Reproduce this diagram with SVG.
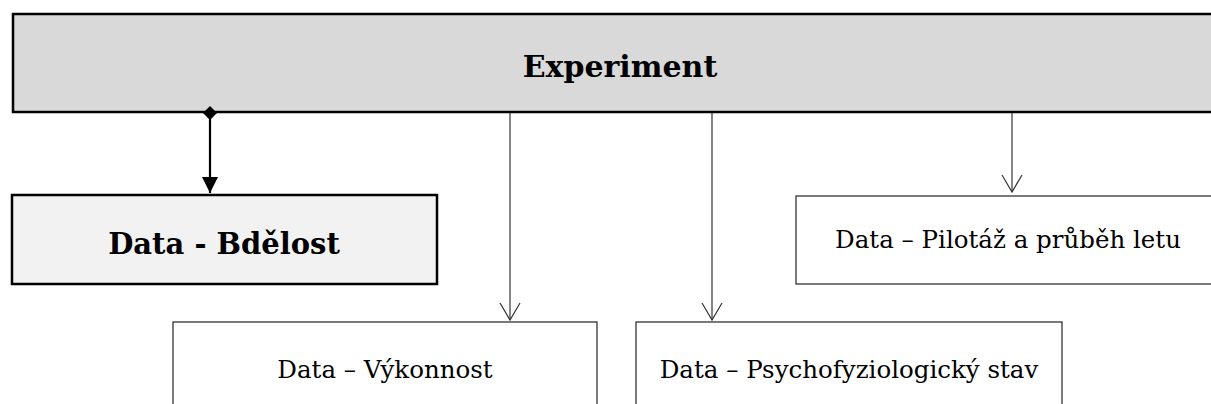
<svg xmlns="http://www.w3.org/2000/svg" width="1211" height="404" viewBox="0 0 1211 404">
<style>
.t{font-family:"DejaVu Serif","Liberation Serif",serif;fill:#000;text-anchor:middle}
.b{font-weight:bold}
.thin{fill:#fff;stroke:#222;stroke-width:1.2}
.con{stroke:#333;stroke-width:1.2;fill:none}
</style>
<defs>
<marker id="open" markerUnits="userSpaceOnUse" markerWidth="20" markerHeight="22" refX="18" refY="11" orient="auto" viewBox="0 0 20 22">
<path d="M1,1 L18,11 L1,21" fill="none" stroke="#333" stroke-width="1.2"/>
</marker>
<marker id="fill" markerUnits="userSpaceOnUse" markerWidth="16" markerHeight="16" refX="16" refY="8" orient="auto" viewBox="0 0 16 16">
<path d="M0,0 L16,8 L0,16 Z" fill="#000"/>
</marker>
<marker id="dia" markerUnits="userSpaceOnUse" markerWidth="14" markerHeight="14" refX="7" refY="7" orient="auto" viewBox="0 0 14 14">
<path d="M0,7 L7,0 L14,7 L7,14 Z" fill="#000"/>
</marker>
</defs>
<g id="experiment">
<rect x="13" y="14" width="1210" height="98" fill="#d9d9d9" stroke="#000" stroke-width="2.5"/>
<text class="t b" x="620" y="77" font-size="30">Experiment</text>
</g>
<g id="bdelost">
<rect x="12" y="195" width="425" height="89" fill="#f2f2f2" stroke="#000" stroke-width="2.5"/>
<text class="t b" x="224" y="254" font-size="29">Data - Bdělost</text>
</g>
<g id="pilotaz">
<rect class="thin" x="796" y="196" width="430" height="88"/>
<text class="t" x="1008" y="248" font-size="24.5">Data – Pilotáž a průběh letu</text>
</g>
<g id="vykonnost">
<rect class="thin" x="173" y="322" width="424" height="100"/>
<text class="t" x="385" y="378" font-size="24.5">Data – Výkonnost</text>
</g>
<g id="psycho">
<rect class="thin" x="636" y="322" width="426" height="100"/>
<text class="t" x="849" y="378" font-size="24.5">Data – Psychofyziologický stav</text>
</g>
<g id="connectors">
<path d="M210,113 L210,193" stroke="#000" stroke-width="2.2" fill="none" marker-start="url(#dia)" marker-end="url(#fill)"/>
<path class="con" d="M510,113 L510,320" marker-end="url(#open)"/>
<path class="con" d="M712,113 L712,320" marker-end="url(#open)"/>
<path class="con" d="M1012,113 L1012,192" marker-end="url(#open)"/>
</g>
</svg>
